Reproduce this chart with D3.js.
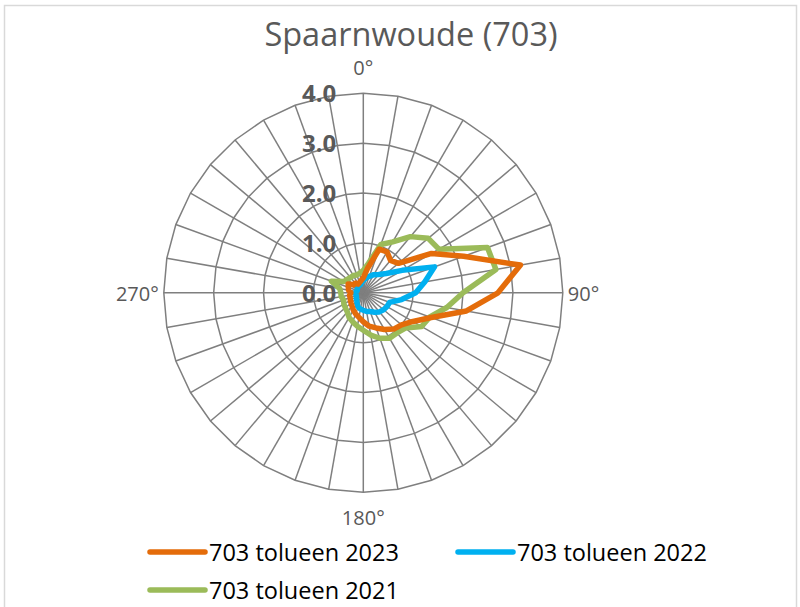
<!DOCTYPE html>
<html>
<head>
<meta charset="utf-8">
<script src="https://cdn.jsdelivr.net/npm/d3@7"></script>
<style>
  body { margin: 0; background: #fff; }
  svg { display: block; }
</style>
</head>
<body>
<div id="chart"></div>
<script>
    var svgWidth = 800;
    var svgHeight = 607;

    // wind directions, every 10 degrees
    var directions = d3.range(0, 360, 10);
    var ringTicks = [0, 1, 2, 3, 4];
    var ringLabels = ["0.0", "1.0", "2.0", "3.0", "4.0"];
    var compassLabels = ["0°", "90°", "180°", "270°"];

    var seriesNames = ["703 tolueen 2023", "703 tolueen 2022", "703 tolueen 2021"];

    var tolueen2023 = [0.3, 0.5, 0.93, 0.95, 0.85, 0.92, 1.58, 2.14, 3.2, 2.7, 2.1, 1.45,
      1.15, 1.0, 0.95, 0.85, 0.75, 0.68, 0.58, 0.5, 0.45, 0.4, 0.35, 0.32,
      0.3, 0.28, 0.28, 0.25, 0.3, 0.32, 0.35, 0.25, 0.25, 0.2, 0.22, 0.25];

    var tolueen2022 = [0.25, 0.3, 0.35, 0.42, 0.48, 0.6, 0.9, 1.52, 1.25, 1.05, 0.78, 0.56,
      0.55, 0.53, 0.5, 0.45, 0.4, 0.38, 0.35, 0.33, 0.3, 0.25, 0.2, 0.18,
      0.16, 0.15, 0.15, 0.15, 0.14, 0.13, 0.14, 0.15, 0.16, 0.17, 0.17, 0.2];

    var tolueen2021 = [0.45, 0.6, 1.03, 1.18, 1.47, 1.7, 1.75, 2.65, 2.7, 2.0, 1.7, 1.42,
      1.35, 1.1, 1.05, 1.05, 0.97, 0.86, 0.75, 0.68, 0.62, 0.57, 0.5, 0.47,
      0.45, 0.42, 0.45, 0.45, 0.48, 0.68, 0.45, 0.42, 0.4, 0.4, 0.38, 0.4];

    var allSeries = [tolueen2023, tolueen2022, tolueen2021];
    var colors = ["#E46C0A", "#00B0F0", "#9BBB59"];

    var cx = 363.3, cy = 292.8, radius = 199.5;

    var svg = d3.select("#chart")
      .append("svg")
      .attr("width", svgWidth)
      .attr("height", svgHeight);

    // chart area border
    svg.append("rect")
      .attr("x", 4.5).attr("y", 5.5)
      .attr("width", 792).attr("height", 640)
      .attr("fill", "none")
      .attr("stroke", "#d9d9d9")
      .attr("stroke-width", 1.5);

    // title
    svg.append("text")
      .attr("x", 411)
      .attr("y", 46)
      .attr("text-anchor", "middle")
      .attr("font-family", "'Open Sans', sans-serif")
      .attr("font-size", 32.5)
      .attr("fill", "#595959")
      .text("Spaarnwoude (703)");

    var r = d3.scaleLinear().domain([0, 4]).range([0, radius]);
    var angle = d3.scaleLinear().domain([0, 360]).range([0, 2 * Math.PI]);

    var g = svg.append("g")
      .attr("transform", `translate(${cx}, ${cy})`);

    // radar gridlines (36-sided polygons)
    var ringLine = d3.lineRadial()
      .angle(d => angle(d.a))
      .radius(d => r(d.v))
      .curve(d3.curveLinearClosed);

    ringTicks.slice(1).forEach(function(t) {
      g.append("path")
        .attr("d", ringLine(directions.map(a => ({ a: a, v: t }))))
        .attr("fill", "none")
        .attr("stroke", "#7f7f7f")
        .attr("stroke-width", 1.5);
    });

    // spokes
    g.selectAll(".spoke")
      .data(directions)
      .enter()
      .append("line")
      .attr("class", "spoke")
      .attr("x1", 0).attr("y1", 0)
      .attr("x2", d => r(4) * Math.sin(angle(d)))
      .attr("y2", d => -r(4) * Math.cos(angle(d)))
      .attr("stroke", "#7f7f7f")
      .attr("stroke-width", 1.5);

    // series
    allSeries.slice().reverse().forEach(function(vals, i) {
      var idx = allSeries.length - 1 - i;
      g.append("path")
        .attr("d", ringLine(directions.map((a, j) => ({ a: a, v: vals[j] }))))
        .attr("fill", "none")
        .attr("stroke", colors[idx])
        .attr("stroke-width", 5.5)
        .attr("stroke-linejoin", "round");
    });

    // value axis labels
    g.selectAll(".rlabel")
      .data(ringTicks)
      .enter()
      .append("text")
      .attr("class", "rlabel")
      .attr("x", -27)
      .attr("y", d => -r(d) + 9)
      .attr("text-anchor", "end")
      .attr("font-family", "'Open Sans', sans-serif")
      .attr("font-weight", "bold")
      .attr("font-size", 24)
      .attr("fill", "#595959")
      .text((d, i) => ringLabels[i]);

    // compass labels
    var compassPos = [
      { x: 0, y: -r(4) - 18, anchor: "middle" },
      { x: r(4) + 5, y: 8, anchor: "start" },
      { x: 0, y: r(4) + 33, anchor: "middle" },
      { x: -r(4) - 5, y: 8, anchor: "end" }
    ];
    g.selectAll(".clabel")
      .data(compassLabels)
      .enter()
      .append("text")
      .attr("class", "clabel")
      .attr("x", (d, i) => compassPos[i].x)
      .attr("y", (d, i) => compassPos[i].y)
      .attr("text-anchor", (d, i) => compassPos[i].anchor)
      .attr("font-family", "'Open Sans', sans-serif")
      .attr("font-size", 20)
      .attr("fill", "#595959")
      .text(d => d);

    // legend
    var legendPos = [
      { x: 147, y: 552 },
      { x: 455, y: 552 },
      { x: 147, y: 590 }
    ];
    var legend = svg.selectAll(".legend")
      .data(seriesNames)
      .enter()
      .append("g")
      .attr("class", "legend")
      .attr("transform", (d, i) => `translate(${legendPos[i].x}, ${legendPos[i].y})`);

    legend.append("line")
      .attr("x1", 3).attr("x2", 58)
      .attr("y1", 0).attr("y2", 0)
      .attr("stroke", (d, i) => colors[i])
      .attr("stroke-width", 5.5)
      .attr("stroke-linecap", "round");

    legend.append("text")
      .attr("x", 62)
      .attr("y", 9)
      .attr("font-family", "'Open Sans', sans-serif")
      .attr("font-size", 23.5)
      .attr("fill", "#000")
      .text(d => d);
</script>
</body>
</html>
